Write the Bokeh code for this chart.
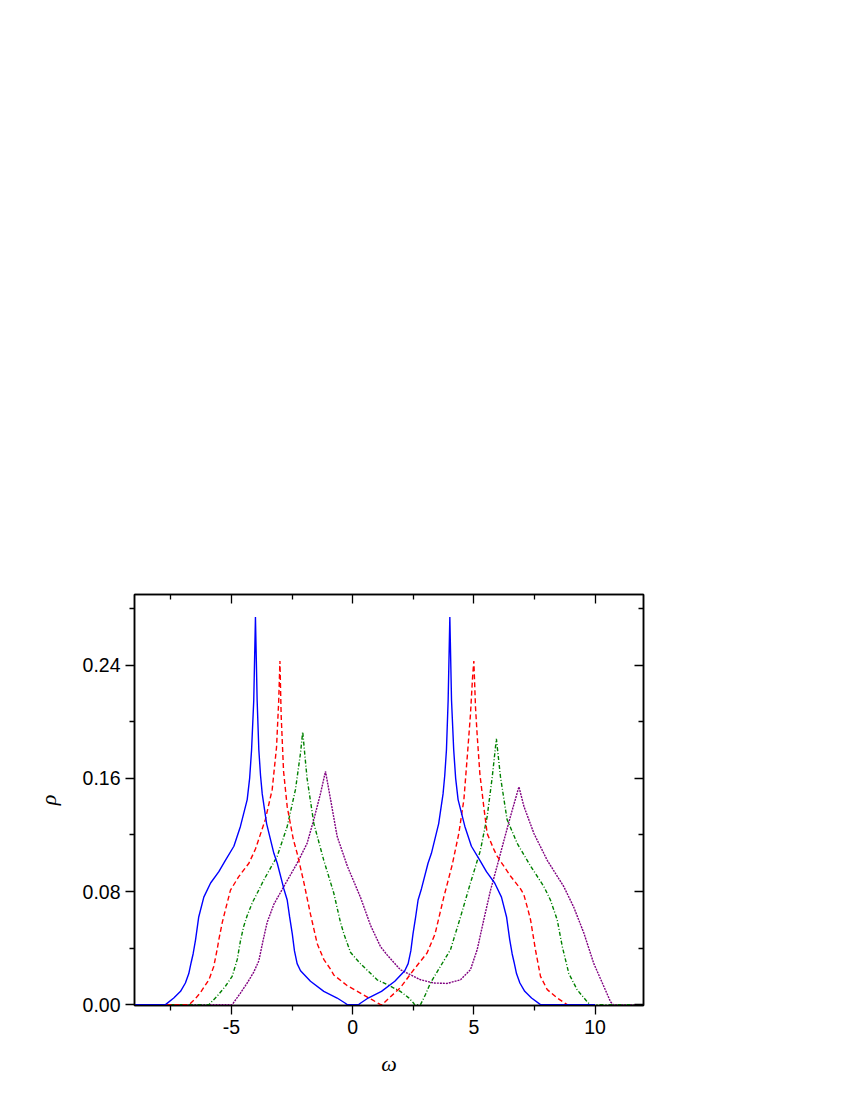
from bokeh.plotting import figure
from bokeh.models import LinearAxis, FixedTicker, Range1d, CustomJSTickFormatter
from bokeh.embed import file_html
from bokeh.resources import INLINE

# ---------------- data ----------------
blue_x = [-9, -7.72, -7.38, -7.10, -6.90, -6.76, -6.66, -6.58, -6.48, -6.35, -6.14, -5.86,
          -5.52, -5.25, -4.90, -4.63, -4.35, -4.25, -4.17, -4.08, -4.01, -3.94, -3.87, -3.80,
          -3.73, -3.55, -3.25, -3.11, -2.84, -2.70, -2.60, -2.49, -2.40, -2.29, -2.15, -1.74,
          -1.19, -0.64, -0.30, -0.23,
          0.25, 0.32, 0.64, 1.19, 1.74, 2.15, 2.29, 2.40, 2.49, 2.60, 2.70, 2.84, 3.11, 3.25,
          3.55, 3.73, 3.80, 3.87, 3.94, 4.01, 4.08, 4.17, 4.25, 4.35, 4.63, 4.90, 5.25, 5.52,
          5.86, 6.14, 6.35, 6.48, 6.58, 6.66, 6.76, 6.90, 7.10, 7.38, 7.75, 10]
blue_y = [0, 0, 0.0047, 0.0094, 0.0153, 0.022, 0.030, 0.036, 0.046, 0.062, 0.076, 0.086,
          0.094, 0.102, 0.112, 0.126, 0.145, 0.160, 0.180, 0.215, 0.274, 0.215, 0.180, 0.162,
          0.149, 0.128, 0.107, 0.100, 0.082, 0.074, 0.062, 0.050, 0.038, 0.029, 0.024, 0.0165,
          0.0094, 0.0047, 0.001, 0,
          0, 0.001, 0.0047, 0.0094, 0.0165, 0.024, 0.029, 0.038, 0.050, 0.062, 0.074, 0.082,
          0.100, 0.107, 0.128, 0.149, 0.162, 0.180, 0.215, 0.274, 0.215, 0.180, 0.160, 0.145,
          0.126, 0.112, 0.102, 0.094, 0.086, 0.076, 0.062, 0.046, 0.036, 0.030, 0.022, 0.0153,
          0.0094, 0.0047, 0, 0]

red_x = [-9, -6.75, -6.50, -6.28, -5.93, -5.73, -5.59, -5.52, -5.38, -5.25, -5.04, -4.70,
         -4.28, -4.01, -3.60, -3.32, -3.14, -3.05, -3.00, -2.95, -2.85, -2.70, -2.45, -2.29,
         -2.02, -1.74, -1.46, -1.19, -0.91, -0.78, -0.23, 0.32, 0.80, 1.08, 1.15,
         1.22, 1.43, 1.97, 2.52, 3.07, 3.40, 3.76, 4.11, 4.38, 4.59, 4.75, 4.86, 4.95, 5.00,
         5.07, 5.14, 5.25, 5.41, 5.55, 5.82, 5.96, 6.51, 6.92, 7.06, 7.22, 7.34, 7.54, 7.75,
         8.03, 8.44, 8.85, 10]
red_y = [0, 0, 0.004, 0.0085, 0.0176, 0.027, 0.039, 0.046, 0.058, 0.067, 0.081, 0.0905,
         0.100, 0.110, 0.131, 0.152, 0.182, 0.215, 0.243, 0.205, 0.165, 0.140, 0.117, 0.107,
         0.087, 0.064, 0.043, 0.032, 0.025, 0.021, 0.0135, 0.0082, 0.0035, 0.0007, 0,
         0, 0.0035, 0.012, 0.0247, 0.0365, 0.050, 0.076, 0.099, 0.121, 0.145, 0.180, 0.205,
         0.232, 0.243, 0.210, 0.190, 0.163, 0.140, 0.121, 0.110, 0.105, 0.091, 0.082, 0.078,
         0.068, 0.060, 0.039, 0.020, 0.0106, 0.0047, 0, 0]

green_x = [-9, -5.93, -5.59, -5.25, -4.97, -4.76, -4.63, -4.50, -4.35, -4.14, -3.80, -3.67,
           -3.11, -2.70, -2.36, -2.15, -2.06, -1.98, -1.88, -1.60, -1.19, -0.78, -0.50, -0.36,
           -0.09, 0.32, 1.01, 1.56, 1.97, 2.30, 2.52, 2.55,
           2.80, 3.00, 3.21, 3.62, 4.04, 4.45, 4.86, 5.27, 5.55, 5.76, 5.93, 6.10, 6.37, 6.79,
           7.34, 7.89, 8.16, 8.44, 8.65, 8.92, 9.26, 9.68, 9.80, 12]
green_y = [0, 0, 0.006, 0.013, 0.020, 0.032, 0.045, 0.055, 0.063, 0.072, 0.0835, 0.088,
           0.105, 0.126, 0.152, 0.178, 0.193, 0.178, 0.160, 0.128, 0.102, 0.079, 0.058, 0.050,
           0.037, 0.029, 0.0176, 0.013, 0.0094, 0.005, 0.001, 0,
           0, 0.007, 0.0153, 0.027, 0.039, 0.062, 0.086, 0.109, 0.133, 0.161, 0.188, 0.161,
           0.131, 0.114, 0.098, 0.0835, 0.074, 0.060, 0.041, 0.022, 0.0106, 0.002, 0, 0]

purple_x = [-9, -4.97, -4.63, -4.35, -4.08, -3.87, -3.70, -3.53, -3.25, -2.84, -2.29, -1.88,
            -1.60, -1.33, -1.12, -0.91, -0.64, -0.22, 0.32, 0.74, 1.15, 1.43, 1.97, 2.80,
            3.35, 3.90, 4.45, 4.86, 5.14, 5.41, 5.69, 5.96, 6.24, 6.51, 6.86, 7.07, 7.48,
            8.03, 8.71, 9.12, 9.54, 9.95, 10.36, 10.64, 10.75, 12]
purple_y = [0, 0, 0.0082, 0.0153, 0.023, 0.031, 0.045, 0.058, 0.071, 0.0835, 0.100, 0.114,
            0.131, 0.149, 0.165, 0.145, 0.119, 0.098, 0.076, 0.056, 0.041, 0.035, 0.0247, 0.0176,
            0.0153, 0.0150, 0.0176, 0.0247, 0.039, 0.060, 0.081, 0.098, 0.116, 0.133, 0.154,
            0.140, 0.121, 0.102, 0.0835, 0.069, 0.0506, 0.029, 0.013, 0.002, 0, 0]

x_ticks = [-5, 0, 5, 10]
x_minor = [-7.5, -2.5, 2.5, 7.5]
x_tick_labels = ["-5", "0", "5", "10"]
y_ticks = [0.0, 0.08, 0.16, 0.24]
y_minor = [0.04, 0.12, 0.20, 0.28]
y_tick_labels = ["0.00", "0.08", "0.16", "0.24"]

# ---------------- figure ----------------
p = figure(frame_width=509, frame_height=411,
           x_range=Range1d(-9, 12), y_range=Range1d(-0.0006, 0.29),
           output_backend="svg", toolbar_location=None,
           min_border_left=134, min_border_right=190,
           min_border_top=594, min_border_bottom=87,
           background_fill_color="white", border_fill_color="white")
p.xgrid.visible = False
p.ygrid.visible = False
p.outline_line_color = "black"
p.outline_line_width = 1.5

lw = 1.4
p.line(purple_x, purple_y, line_color="#800080", line_width=lw, line_dash="2 1")
p.line(green_x, green_y, line_color="#008000", line_width=lw, line_dash="4 2 1 2")
p.line(red_x, red_y, line_color="#FF0000", line_width=lw, line_dash="5 3")
p.line(blue_x, blue_y, line_color="#0000FF", line_width=lw)

def style(ax, ticks, minor, labels, outer):
    ax.ticker = FixedTicker(ticks=ticks, minor_ticks=minor)
    ax.axis_line_color = "black"
    ax.axis_line_width = 1.5
    ax.major_tick_line_color = "black"
    ax.minor_tick_line_color = "black"
    ax.major_tick_line_width = 1.3
    ax.minor_tick_line_width = 1.3
    if outer:
        ax.major_tick_out = 9
        ax.major_tick_in = 0
        ax.minor_tick_out = 5
        ax.minor_tick_in = 0
        ax.major_label_overrides = {t: s for t, s in zip(ticks, labels)}
        ax.major_label_text_font = "Liberation Sans"
        ax.major_label_text_font_size = "19.5px"
        ax.major_label_text_color = "black"
        ax.major_label_standoff = 5
    else:
        ax.major_tick_out = 0
        ax.major_tick_in = 9
        ax.minor_tick_out = 0
        ax.minor_tick_in = 5
        ax.formatter = CustomJSTickFormatter(code="return ''")
        ax.major_label_standoff = 0

style(p.xaxis[0], x_ticks, x_minor, x_tick_labels, True)
style(p.yaxis[0], y_ticks, y_minor, y_tick_labels, True)

p.xaxis[0].axis_label = "ω"
p.yaxis[0].axis_label = "ρ"
for ax in (p.xaxis[0], p.yaxis[0]):
    ax.axis_label_text_font = "Liberation Serif"
    ax.axis_label_text_font_style = "italic"
    ax.axis_label_text_font_size = "22px"
    ax.axis_label_text_color = "black"
p.xaxis[0].axis_label_standoff = 14
p.yaxis[0].axis_label_standoff = 19

top = LinearAxis()
right = LinearAxis()
style(top, x_ticks, x_minor, x_tick_labels, False)
style(right, y_ticks, y_minor, y_tick_labels, False)
p.add_layout(top, "above")
p.add_layout(right, "right")

open("out.html", "w").write(file_html(p, INLINE))
